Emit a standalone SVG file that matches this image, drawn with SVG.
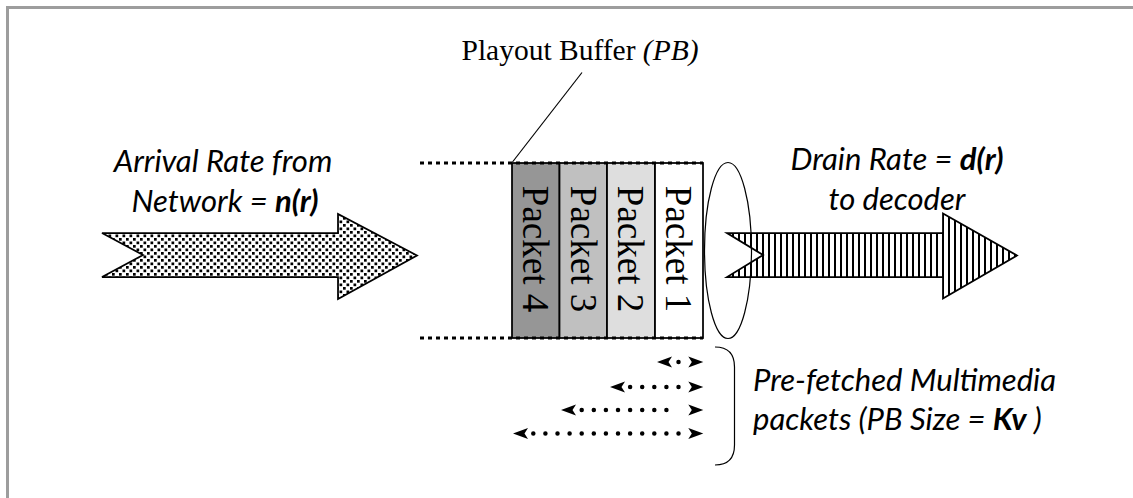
<svg xmlns="http://www.w3.org/2000/svg" width="1133" height="498" viewBox="0 0 1133 498">
  <style>
    .frame { stroke: #9d9d9d; stroke-width: 3; fill: none; }
    .outline { stroke: #000; stroke-width: 1.75; stroke-linejoin: miter; }
    .cell { stroke: #000; stroke-width: 1.75; }
    .pkt { font-family: "Liberation Serif", "Times New Roman", serif; font-size: 37px; fill: #000; }
    .title { font-family: "Liberation Serif", "Times New Roman", serif; font-size: 29.5px; fill: #000; }
    .lbl { font-family: "Lato", "Open Sans", sans-serif; font-style: italic; font-size: 31px; fill: #000; }
    .b { font-weight: bold; }
    .bufedge { stroke: #000; stroke-width: 3; stroke-dasharray: 4 4; fill: none; }
    .dots { stroke: #000; stroke-width: 4.5; stroke-linecap: round; stroke-dasharray: 0.01 12.09; fill: none; }
    .thin { stroke: #000; stroke-width: 1.2; fill: none; }
  </style>
  <defs>
    <!-- confetti fill of the incoming arrow -->
    <pattern id="confetti" width="7" height="7" patternUnits="userSpaceOnUse">
      <rect width="7" height="7" fill="#fff"/>
      <rect x="0" y="0" width="2.7" height="2.7" fill="#000"/>
      <rect x="3.5" y="3.5" width="2.7" height="2.7" fill="#000"/>
    </pattern>
    <!-- vertical stripes of the outgoing arrow -->
    <pattern id="stripes" width="6" height="6" patternUnits="userSpaceOnUse">
      <rect width="6" height="6" fill="#fff"/>
      <rect x="0" y="0" width="2" height="6" fill="#000"/>
    </pattern>
    <!-- stealth arrowhead, tip at the origin pointing right -->
    <path id="head" d="M0,0 L-15,-5.5 L-11.5,0 L-15,5.5 Z" fill="#000"/>
  </defs>

  <rect width="1133" height="498" fill="#fff"/>
  <!-- frame: only the top and left edges fall inside the canvas -->
  <path class="frame" d="M7.5,498 L7.5,7.5 L1133,7.5"/>

  <g id="arrival-arrow">
    <path class="outline" fill="url(#confetti)" d="M102,233 L338,233 L338,214 L417,255.5 L338,299 L338,277 L102,277 L143,255 Z"/>
  </g>

  <g id="arrival-label">
    <text class="lbl" x="223" y="171.5" text-anchor="middle">Arrival Rate from</text>
    <text class="lbl" x="225" y="211.5" text-anchor="middle">Network = <tspan class="b">n(r)</tspan></text>
  </g>

  <g id="drain-arrow">
    <path class="outline" fill="url(#stripes)" d="M727,233 L943,233 L943,213.5 L1017,255.5 L943,298.5 L943,277 L727,277 L763,255 Z"/>
  </g>

  <g id="drain-label">
    <text class="lbl" x="897" y="170" text-anchor="middle">Drain Rate = <tspan class="b">d(r)</tspan></text>
    <text class="lbl" x="897" y="210" text-anchor="middle">to decoder</text>
  </g>

  <g id="playout-buffer">
    <rect class="cell" x="512" y="163" width="47.5" height="175" fill="#969696"/>
    <rect class="cell" x="559.5" y="163" width="47.5" height="175" fill="#c0c0c0"/>
    <rect class="cell" x="607" y="163" width="48" height="175" fill="#dedede"/>
    <rect class="cell" x="655" y="163" width="48" height="175" fill="#fff"/>
    <text class="pkt" transform="translate(535.5,249) rotate(90)" x="0" y="12.5" text-anchor="middle">Packet 4</text>
    <text class="pkt" transform="translate(583,249) rotate(90)" x="0" y="12.5" text-anchor="middle">Packet 3</text>
    <text class="pkt" transform="translate(630.5,249) rotate(90)" x="0" y="12.5" text-anchor="middle">Packet 2</text>
    <text class="pkt" transform="translate(678.5,249) rotate(90)" x="0" y="12.5" text-anchor="middle">Packet 1</text>
    <path class="bufedge" d="M420,163 L703,163 M420,338 L703,338"/>
  </g>

  <g id="buffer-title">
    <text class="title" x="461.5" y="60">Playout Buffer <tspan font-style="italic">(PB)</tspan></text>
  </g>

  <g id="decoder-window">
    <ellipse class="thin" stroke-width="1.6" cx="728" cy="250.5" rx="23.5" ry="88"/>
  </g>

  <g id="prefetch-label">
    <text class="lbl" x="753" y="391">Pre-fetched Multimedia</text>
    <text class="lbl" x="753" y="430">packets (PB Size = <tspan class="b">Kv</tspan> )</text>
  </g>

  <g id="connectors">
    <!-- leader from the title to the buffer -->
    <line class="thin" x1="582" y1="72.5" x2="512.5" y2="162"/>
    <!-- brace grouping the prefetch spans -->
    <path class="thin" stroke-width="1.8" d="M715,347 Q734.5,347 734.5,367 L734.5,445 Q734.5,465 715,465"/>
    <!-- prefetch spans -->
    <line class="dots" x1="678.5" y1="362" x2="678.5" y2="362"/>
    <use href="#head" transform="translate(703.3,362)"/>
    <use href="#head" transform="translate(657,362) scale(-1,1)"/>

    <line class="dots" x1="630.1" y1="387" x2="678.5" y2="387"/>
    <use href="#head" transform="translate(703.3,387)"/>
    <use href="#head" transform="translate(610,387) scale(-1,1)"/>

    <line class="dots" x1="581.7" y1="410" x2="678.5" y2="410"/>
    <use href="#head" transform="translate(703.3,410)"/>
    <use href="#head" transform="translate(561,410) scale(-1,1)"/>

    <line class="dots" x1="533.3" y1="433.5" x2="678.5" y2="433.5"/>
    <use href="#head" transform="translate(703.3,433.5)"/>
    <use href="#head" transform="translate(513,433.5) scale(-1,1)"/>
  </g>
</svg>
